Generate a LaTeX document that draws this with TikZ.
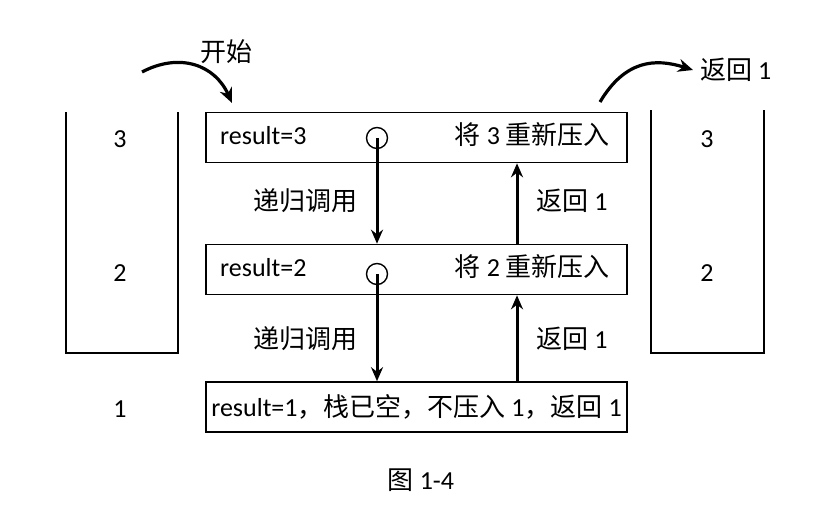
\documentclass[tikz,border=0pt]{standalone}
\usepackage{fontspec}
\setmainfont{Carlito}
\newfontfamily\cjk{Noto Sans CJK SC}
\usetikzlibrary{arrows.meta,positioning}
\newcommand{\zh}[1]{{\cjk #1}}

\begin{document}
\begin{tikzpicture}[x=1pt, y=-1pt, every node/.style={font=\fontsize{26}{30}\selectfont, inner sep=0pt},
    framebox/.style={draw, line width=1.6pt, minimum width=421pt, minimum height=50pt},
    callarr/.style={-{Stealth[length=14pt,width=12pt]}, line width=3pt},
    swoop/.style={-{Stealth[length=15pt,width=13pt]}, line width=3.2pt}]
        \useasboundingbox (0,0) rectangle (821,509);
        % stacks
        \draw[line width=1.8pt] (66,112) -- (66,353) -- (178,353) -- (178,112);
        \draw[line width=1.8pt] (651,110) -- (651,353) -- (764,353) -- (764,110);
        \node (l3) at (120,139) {3};
        \node (l2) at (120,273) {2};
        \node (l1) at (120,409) {1};
        \node (s3) at (707,139) {3};
        \node (s2) at (707,273) {2};
        % frames
        \node[framebox] (f3) at (416.5,137.5) {};
        \node[framebox] (f2) at (416.5,269.5) {};
        \node[framebox] (f1) at (416.5,407) {};
        \node[anchor=west] (t3) at (220,136) {result=3};
        \node[anchor=west] (t2) at (220,268) {result=2};
        \node[anchor=east] (p3) at (610,135) {\zh{将} 3 \zh{重新压入}};
        \node[anchor=east] (p2) at (610,267) {\zh{将} 2 \zh{重新压入}};
        \node (t1) at (416.5,407) {result=1\zh{，栈已空，不压入} 1\zh{，返回} 1};
        \node[circle, draw, line width=1.4pt, minimum size=21pt] (c3) at (377,138) {};
        \node[circle, draw, line width=1.4pt, minimum size=21pt] (c2) at (377,274) {};
        \coordinate (up) at (517,0);
        % calls and returns
        \draw[callarr] (c3.center) -- (c3.center |- f2.north);
        \draw[callarr] (c2.center) -- (c2.center |- f1.north);
        \draw[callarr] (up |- f2.north) -- (up |- f3.south);
        \draw[callarr] (up |- f1.north) -- (up |- f2.south);
        \node (d3) at (305,201) {\zh{递归调用}};
        \node (d2) at (305,339) {\zh{递归调用}};
        \node (b3) at (572,201) {\zh{返回} 1};
        \node (b2) at (572,339) {\zh{返回} 1};
        % start and end
        \node (go) at (226,52) {\zh{开始}};
        \coordinate (gofrom) at (142,72);
        \coordinate (goto) at (232,103);
        \draw[swoop] (gofrom) .. controls (180,52) and (215,65) .. (goto);
        \node[anchor=west] (done) at (700,70) {\zh{返回} 1};
        \coordinate (donefrom) at (600,102);
        \coordinate (doneto) at (693,70);
        \draw[swoop] (donefrom) .. controls (625,60) and (655,58) .. (doneto);
        \node (cap) at (421,480) {\zh{图} 1-4};
\end{tikzpicture}
\end{document}
